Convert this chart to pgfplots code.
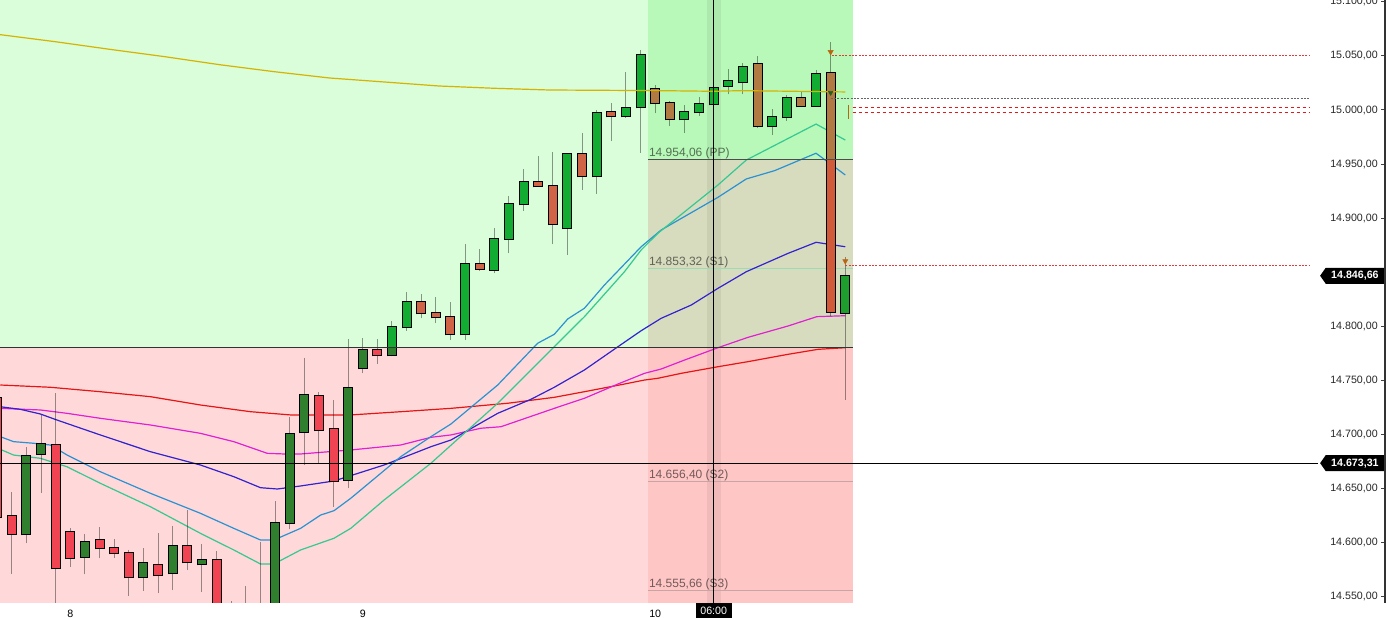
\documentclass[border=0pt]{standalone}
\usepackage{pgfplots}
\usepackage{pgfplotstable}
\pgfplotsset{compat=1.18}
\usetikzlibrary{shapes.symbols}
\usepackage{fontspec}
\setmainfont{Liberation Sans}
\definecolor{bgG}{HTML}{DAFDDA}
\definecolor{bgP}{HTML}{FFD9D9}
\definecolor{bgGb}{HTML}{B8F8B8}
\definecolor{bgK}{HTML}{D8DCBE}
\definecolor{bgPb}{HTML}{FFC6C6}
\definecolor{cRed}{HTML}{F04452}
\definecolor{cDkG}{HTML}{2F7F2F}
\definecolor{cBG}{HTML}{12AC32}
\definecolor{cOrg}{HTML}{D06446}
\definecolor{cBrn}{HTML}{B07A42}
\definecolor{cRdo}{HTML}{D05A3A}
\definecolor{cKG}{HTML}{1E9E2C}
\definecolor{maY}{HTML}{D4B400}
\definecolor{maR}{HTML}{E61414}
\definecolor{maM}{HTML}{E020D2}
\definecolor{maB}{HTML}{3222D0}
\definecolor{maLB}{HTML}{2A92D2}
\definecolor{maT}{HTML}{34C892}
\definecolor{mkO}{HTML}{B8660E}
\definecolor{mkG}{HTML}{1F5F1F}
\definecolor{dotR}{HTML}{E03C3C}
\definecolor{dashR}{HTML}{E01A1A}
\definecolor{sOne}{HTML}{9DDBB4}
\definecolor{sTwo}{HTML}{C8A4A4}
% all candles: index, low, body bottom, body top, high
\pgfplotstableread{
i l b t h
-5 14615 14623.5 14733.6 14736
-4 14570.8 14607.8 14624.4 14646.9
-3 14599.2 14607.5 14680.2 14688.5
-2 14645.7 14681.8 14691.0 14717.9
-1 14540 14576.0 14689.8 14738.5
0 14577.5 14585.3 14609.9 14613.0
1 14570.5 14586.8 14600.6 14607.8
2 14585.3 14594.5 14601.9 14614.5
3 14585.8 14589.9 14594.5 14602.9
4 14550.4 14567.7 14589.9 14592.9
5 14555.3 14567.7 14580.7 14595.1
6 14552.9 14569.6 14578.8 14609.0
7 14555.9 14571.4 14596.4 14615.5
8 14574.5 14581.6 14596.4 14630.0
9 14554.4 14579.7 14583.4 14598.2
10 14530 14538 14583.4 14592.0
11 14515 14525 14535 14546
12 14510 14525 14532 14559.7
13 14515 14522 14530 14600.7
14 14520 14530 14617.7 14638.6
15 14612 14618.2 14700.0 14715.7
16 14671.6 14701.8 14736.0 14770.3
17 14673.2 14703.7 14735.1 14739
18 14633.0 14656.8 14704.6 14731.7
19 14650 14657.7 14742.6 14787.9
20 14756.4 14761.1 14778.0 14788.8
21 14764.8 14773.1 14778.0 14787.9
22 14772 14773.1 14799.0 14804.8
23 14795.8 14799.0 14822.1 14831.4
24 14807.3 14811.9 14822.1 14829.8
25 14802.7 14808.2 14811.9 14826.7
26 14787.2 14792.5 14808.2 14822.1
27 14787.2 14792.5 14857.3 14876.0
28 14851.3 14853.2 14857.3 14871.4
29 14848.9 14852.3 14880.7 14890.6
30 14867.4 14880.9 14912.8 14920.7
31 14906.6 14912.8 14933.1 14945.1
32 14929.0 14929.4 14933.1 14957.7
33 14876.0 14894.3 14929.7 14960.9
34 14865.9 14890.6 14959.0 14960
35 14926.0 14938.7 14959.0 14979.0
36 14922.3 14938.7 14997.0 15000
37 14971.3 14994.2 14997.9 15006.8
38 14993 14994.2 15001.6 15035.4
39 14960.5 15002.5 15050.9 15055.5
40 14996.9 15006.2 15019.1 15023.1
41 14985.2 14991.4 15006.2 15008.6
42 14979.0 14991.4 14997.9 15004.6
43 14994.5 14997.9 15005.3 15012.3
44 14989.2 15005.3 15020.1 15023.1
45 15014.5 15022.2 15027.1 15037.6
46 15014.8 15025.6 15039.5 15043.2
47 14983 14984.9 15042.3 15049.95
48 14976.9 14984.9 14993.2 15000.9
49 14990.1 14993.2 15010.8 15013.9
50 15003 15003.4 15010.8 15017.6
51 15003 15004.0 15033.0 15037.0
52 14809.4 14813.4 15033.9 15063.2
53 14731.7 14812.5 14846.66 14864.3
}\candles
% body fills by colour (index, bottom, top)
\pgfplotstableread{
i b t
-5 14623.5 14733.6
-4 14607.8 14624.4
-1 14576.0 14689.8
0 14585.3 14609.9
2 14594.5 14601.9
3 14589.9 14594.5
4 14567.7 14589.9
6 14569.6 14578.8
8 14581.6 14596.4
10 14538 14583.4
11 14525 14535
13 14522 14530
17 14703.7 14735.1
18 14656.8 14704.6
21 14773.1 14778.0
}\tRed
\pgfplotstableread{
i b t
-3 14607.5 14680.2
-2 14681.8 14691.0
1 14586.8 14600.6
5 14567.7 14580.7
7 14571.4 14596.4
9 14579.7 14583.4
12 14525 14532
14 14530 14617.7
15 14618.2 14700.0
16 14701.8 14736.0
19 14657.7 14742.6
20 14761.1 14778.0
22 14773.1 14780.6
}\tDkG
\pgfplotstableread{
i b t
22 14780.6 14799.0
23 14799.0 14822.1
27 14792.5 14857.3
29 14852.3 14880.7
30 14880.9 14912.8
31 14912.8 14933.1
34 14890.6 14959.0
36 14938.7 14997.0
38 14994.2 15001.6
39 15002.5 15050.9
42 14991.4 14997.9
43 14997.9 15005.3
44 15005.3 15020.1
45 15022.2 15027.1
46 15025.6 15039.5
48 14984.9 14993.2
49 14993.2 15010.8
51 15004.0 15033.0
}\tBG
\pgfplotstableread{
i b t
24 14811.9 14822.1
25 14808.2 14811.9
26 14792.5 14808.2
28 14853.2 14857.3
32 14929.4 14933.1
33 14894.3 14929.7
35 14938.7 14959.0
37 14994.2 14997.9
}\tOrg
\pgfplotstableread{
i b t
40 15006.2 15019.1
41 14991.4 15006.2
47 14984.9 15042.3
50 15003.4 15010.8
52 14954.06 15033.9
}\tBrn
\pgfplotstableread{
i b t
52 14813.4 14954.06
}\tRdo
\pgfplotstableread{
i b t
53 14812.5 14846.66
}\tKG
\newcommand\bodies[2]{\addplot[draw=none, mark=none, error bars/.cd, y dir=plus, y explicit, error mark=none,
  error bar style={draw=#2, line width=6pt}] table[x=i, y=b, y error expr=\thisrow{t}-\thisrow{b}] {#1};}
\newcommand\rect[5]{\addplot[fill=#5, draw=none] coordinates {(#1,#2) (#1,#4) (#3,#4) (#3,#2)} -- cycle;}
\begin{document}
\begin{tikzpicture}
\useasboundingbox (0,0) rectangle (1040.25pt,462.75pt);
\begin{axis}[
  at={(0pt,10.5pt)}, anchor=south west,
  scale only axis, width=1038.75pt, height=452.25pt,
  xmin=-4.808, xmax=89.91, ymin=14543.94, ymax=15101.76,
  clip mode=individual,
  axis line style={draw=none},
  xtick={0,20,40}, xticklabels={8,9,10},
  xtick style={draw=none},
  xticklabel style={font=\fontsize{8}{9}\selectfont, inner sep=0pt, anchor=north, yshift=-4.8pt},
  ytick={14550,14600,14650,14700,14750,14800,14900,14950,15000,15050,15100},
  ytick pos=right, yticklabel pos=right, tick align=inside, major tick length=3pt,
  ytick style={draw=black!75, line width=0.75pt},
  yticklabel style={font=\fontsize{8}{9}\selectfont, anchor=east, inner sep=0pt, xshift=-5.25pt, text=black!85},
  scaled y ticks=false,
  /pgf/number format/fixed, /pgf/number format/fixed zerofill,
  /pgf/number format/precision=2, /pgf/number format/use comma,
  /pgf/number format/1000 sep={.}, /pgf/number format/assume math mode=true,
]
% backgrounds
\rect{-6}{14780.6}{39.51}{15110}{bgG}
\rect{-6}{14530}{39.51}{14780.6}{bgP}
\rect{39.51}{14954.06}{53.53}{15110}{bgGb}
\rect{39.51}{14780.6}{53.53}{14954.06}{bgK}
\rect{39.51}{14530}{53.53}{14780.6}{bgPb}
\addplot[fill=black, fill opacity=0.06, draw=none] coordinates {(43.52,14530) (43.52,15110) (44.48,15110) (44.48,14530)} -- cycle;
% pivot lines
\addplot[draw=sOne, line width=0.75pt] coordinates {(39.51,14853.32) (53.53,14853.32)};
\addplot[draw=sTwo, line width=0.75pt] coordinates {(39.51,14656.40) (53.53,14656.40)};
\addplot[draw=sTwo, line width=0.75pt] coordinates {(39.51,14555.66) (53.53,14555.66)};
% moving averages
\addplot[draw=maR, line width=0.9pt] coordinates {(-4.79,14745.6) (-1.37,14743.5) (2.05,14739.4) (5.48,14734.8) (8.90,14727.1) (12.33,14720.9) (15.07,14717.9) (19.18,14717.9) (22.60,14720.9) (26.03,14724.0) (29.91,14728.7) (33.10,14734.2) (35.16,14739.4) (37.90,14746.5) (39.27,14750.2) (40.18,14751.8) (41.78,14756.4) (44.29,14762.5) (46.35,14767.2) (49.09,14774.0) (51.14,14778.6) (53.0,14780.1)};
\addplot[draw=maM, line width=0.9pt] coordinates {(-4.79,14724.0) (-2.05,14722.5) (-0.23,14719.4) (2.05,14714.8) (5.48,14708.6) (8.90,14700.9) (11.18,14693.2) (13.47,14682.4) (14.61,14681.8) (15.75,14681.8) (19.18,14685.5) (22.60,14690.1) (24.66,14697.2) (26.03,14699.4) (28.08,14705.6) (29.45,14707.0) (33.10,14724.0) (35.16,14733.3) (37.45,14746.5) (39.27,14756.4) (40.41,14760.4) (42.01,14768.7) (44.29,14780.1) (46.35,14789.7) (49.09,14800.2) (51.05,14808.8) (53.0,14809.7)};
\addplot[draw=maB, line width=0.9pt] coordinates {(-4.79,14725.5) (-3.42,14723.1) (-2.05,14718.8) (-0.91,14713.2) (2.05,14699.4) (5.48,14683.9) (8.90,14671.6) (11.18,14660.8) (13.01,14650.6) (14.16,14649.4) (15.75,14652.2) (18.03,14656.8) (21.46,14671.6) (24.66,14688.5) (26.03,14694.7) (29.23,14719.4) (31.51,14732.4) (33.10,14743.5) (35.16,14759.5) (37.45,14781.0) (39.04,14795.8) (40.41,14807.3) (42.47,14819.6) (44.29,14835.0) (46.23,14850.4) (49.09,14867.4) (51.0,14877.6) (53.0,14873.5)};
\addplot[draw=maLB, line width=0.9pt] coordinates {(-4.79,14697.8) (-3.88,14693.2) (-2.51,14691.7) (-1.37,14690.1) (-0.23,14680.9) (2.05,14665.4) (5.48,14645.4) (8.90,14626.9) (11.18,14613.0) (13.01,14602.2) (13.92,14602.2) (15.75,14613.0) (17.12,14625.3) (18.03,14629.3) (19.18,14640.8) (22.60,14679.3) (24.66,14697.8) (26.03,14709.5) (29.23,14745.6) (31.96,14784.2) (33.10,14792.5) (34.02,14806.7) (35.16,14816.6) (36.53,14838.1) (39.04,14873.5) (40.41,14889.0) (44.29,14919.2) (46.23,14936.2) (48.17,14943.9) (51.0,14960.0) (53.0,14939.9)};
\addplot[draw=maT, line width=0.9pt] coordinates {(-4.79,14686.1) (-3.88,14680.8) (-2.05,14677.8) (-0.23,14670.0) (2.05,14654.7) (5.48,14633.0) (8.90,14608.4) (11.18,14593.0) (13.01,14580.0) (13.92,14580.0) (15.75,14593.0) (18.03,14603.8) (19.18,14613.0) (21.46,14639.2) (24.66,14673.2) (26.94,14700.9) (29.23,14728.7) (31.96,14765.7) (33.10,14781.0) (35.16,14808.8) (37.90,14850.4) (39.04,14870.5) (40.18,14885.9) (44.29,14930.6) (46.23,14953.7) (51.0,14987.0) (53.0,14972.2)};
% candles: wicks, outlines, fills
\addplot[draw=none, mark=none, error bars/.cd, y dir=plus, y explicit, error mark=none,
  error bar style={draw=black, draw opacity=0.4, line width=0.75pt}] table[x=i, y=l, y error expr=\thisrow{h}-\thisrow{l}] {\candles};
\addplot[draw=none, mark=none, error bars/.cd, y dir=plus, y explicit, error mark=none,
  error bar style={draw=black, line width=7.5pt}] table[x=i, y expr=\thisrow{b}-0.93, y error expr=\thisrow{t}-\thisrow{b}+1.86] {\candles};
\bodies{\tRed}{cRed}
\bodies{\tDkG}{cDkG}
\bodies{\tBG}{cBG}
\bodies{\tOrg}{cOrg}
\bodies{\tBrn}{cBrn}
\bodies{\tRdo}{cRdo}
\bodies{\tKG}{cKG}
% long moving average on top
\addplot[draw=maY, line width=0.9pt] coordinates {(-4.80,15069.7) (-1.04,15063.2) (2.71,15056.1) (6.47,15049.3) (10.21,15041.9) (13.97,15035.4) (17.73,15029.6) (21.48,15025.9) (25.21,15022.2) (28.97,15020.1) (32.74,15018.5) (36.49,15018.2) (40.24,15017.9) (43.97,15017.3) (45.89,15017.9) (53.0,15016.7)};
% zone lines
\addplot[draw=black!80, line width=0.75pt] coordinates {(-6,14780.6) (53.53,14780.6)};
\addplot[draw=black!70, line width=0.75pt] coordinates {(39.51,14954.06) (53.53,14954.06)};
% right-side levels
\addplot[draw=dotR, line width=0.75pt, dash pattern=on 1.5pt off 1pt] coordinates {(52.1,15050) (84.78,15050)};
\addplot[draw=black!60, line width=0.75pt, dash pattern=on 1.5pt off 1pt] coordinates {(52.0,15010.8) (84.78,15010.8)};
\addplot[draw=dashR, line width=0.75pt, dash pattern=on 2.25pt off 2.25pt] coordinates {(53.5,15002.5) (84.78,15002.5)};
\addplot[draw=dashR, line width=0.75pt, dash pattern=on 2.25pt off 2.25pt] coordinates {(53.5,14997.9) (84.78,14997.9)};
\addplot[draw=dotR, line width=0.75pt, dash pattern=on 1.5pt off 1pt] coordinates {(53.0,14856.3) (84.78,14856.3)};
% markers
\addplot[draw=mkO, line width=0.75pt] coordinates {(53.2,15004.5) (53.2,14991.5)};
\addplot[only marks, mark=triangle*, mark size=2.2pt, mark options={rotate=180, fill=mkO, draw=mkO}] coordinates {(52,15053.7) (53,14860.3)};
\addplot[only marks, mark=triangle*, mark size=2pt, mark options={rotate=180, fill=mkG, draw=mkG}] coordinates {(52,15016)};
% crosshair
\addplot[draw=black, line width=0.75pt] coordinates {(-6,14673.31) (85.3,14673.31)};
\addplot[draw=black, line width=0.75pt] coordinates {(44.0,14543.94) (44.0,15110)};
% pivot labels
\begin{scope}[every node/.style={font=\fontsize{9}{10}\selectfont, text=black, text opacity=0.55, inner sep=0pt, anchor=base west}]
\node at (axis cs:39.56,14954.06) [yshift=2.4pt] {14.954,06 (PP)};
\node at (axis cs:39.56,14853.32) [yshift=2.4pt] {14.853,32 (S1)};
\node at (axis cs:39.56,14656.40) [yshift=2.4pt] {14.656,40 (S2)};
\node at (axis cs:39.56,14555.66) [yshift=2.4pt] {14.555,66 (S3)};
\end{scope}
% price tags
\begin{scope}[every node/.style={signal, signal to=west, signal pointer angle=110, fill=black, text=white,
   font=\bfseries\fontsize{8}{9}\selectfont, minimum height=12pt, minimum width=48pt, inner xsep=1pt, inner ysep=0pt, anchor=east}]
\node at (axis cs:89.87,14846.66) {14.846,66};
\node at (axis cs:89.87,14673.31) {14.673,31};
\end{scope}
\node[fill=black, text=white, font=\fontsize{8}{9}\selectfont, inner sep=0pt, minimum width=27pt, minimum height=11pt, anchor=north] at (axis cs:44.0,14543.94) {06:00};
\draw[black!80, line width=1.5pt] (rel axis cs:1,0) -- (rel axis cs:1,1);
\end{axis}
\end{tikzpicture}
\end{document}
